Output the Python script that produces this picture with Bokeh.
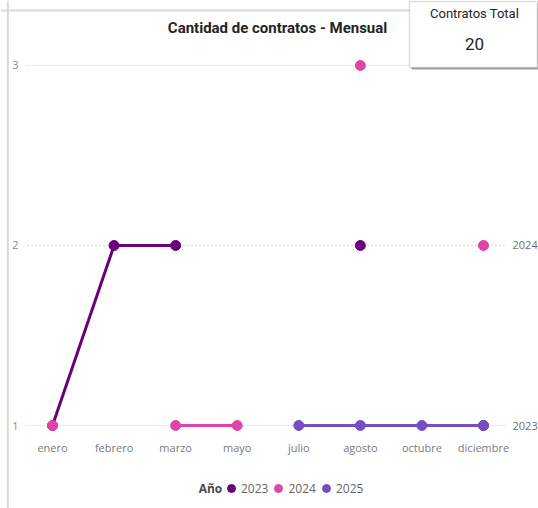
import math
from bokeh.plotting import figure
from bokeh.models import (Range1d, Legend, LegendItem, Label, BoxAnnotation,
                          ColumnDataSource, Span)
from bokeh.core.properties import value
from bokeh.embed import file_html
from bokeh.resources import INLINE

months = ["enero", "febrero", "marzo", "mayo", "julio", "agosto", "octubre", "diciembre"]
nan = float("nan")
series_names = ["2023", "2024", "2025"]
v2023 = [1, 2, 2, nan, nan, 2, nan, 1]
v2024 = [1, nan, 1, 1, nan, 3, nan, 2]
v2025 = [nan, nan, nan, nan, 1, 1, 1, 1]
series_values = [v2023, v2024, v2025]
colors = ["#6B007B", "#E044A7", "#744EC2"]
y_ticks = [1, 2, 3]
title_text = "Cantidad de contratos - Mensual"
total_label = "Contratos Total"
legend_title = "Año"

FONT = "Open Sans"
W, H = 538, 508

# Frame covers the whole figure; category i sits at x = i, value v at y = v
p = figure(width=W, height=H, output_backend="svg", toolbar_location=None,
           x_range=Range1d(-0.8446, 7.893), y_range=Range1d(0.5389, 3.3611),
           min_border=0, min_border_left=0, min_border_right=0,
           min_border_top=0, min_border_bottom=0)
p.xaxis.visible = False
p.yaxis.visible = False
p.xgrid.visible = False
p.ygrid.visible = False
p.outline_line_color = None
p.background_fill_color = "white"
p.border_fill_color = "white"

n = len(months)
x_lo, x_hi = -0.406, n - 1 + 0.357

# visual frame lines (top & left)
p.add_layout(Span(location=3.3056, dimension="width", line_color="#dadada", line_width=2))
p.add_layout(Span(location=-0.725, dimension="height", line_color="#dadada", line_width=2))

# dotted gridlines at y ticks
p.segment(x0=[x_lo] * len(y_ticks), x1=[x_hi] * len(y_ticks), y0=y_ticks, y1=y_ticks,
          line_color="#b4b4b4", line_width=1, line_dash="1 3")

# y tick labels (left)
p.text(x=[-0.552] * len(y_ticks), y=y_ticks, text=[str(t) for t in y_ticks],
       text_font=value(FONT), text_font_size="11px", text_color="#8a8a8a",
       text_align="right", text_baseline="middle")

# x tick labels
p.text(x=list(range(n)), y=[0.878] * n, text=months,
       text_font=value(FONT), text_font_size="11px", text_color="#7a7a7a",
       text_align="center", text_baseline="middle")

# end-of-series labels (right)
end_labels = {}
for name, vals in zip(series_names, series_values):
    last = [v for v in vals if not math.isnan(v)][-1]
    if last not in end_labels:
        end_labels[last] = name
p.text(x=[7.471] * len(end_labels), y=list(end_labels.keys()),
       text=list(end_labels.values()),
       text_font=value(FONT), text_font_size="11px", text_color="#6e6e6e",
       text_align="left", text_baseline="middle")

# series
items = []
xs = list(range(n))
for name, vals, col in zip(series_names, series_values, colors):
    src = ColumnDataSource(dict(x=xs, y=vals))
    p.line("x", "y", source=src, line_color=col, line_width=3)
    r = p.scatter("x", "y", source=src, size=10, fill_color=col, line_color=col)
    items.append(LegendItem(label=name, renderers=[r]))

legend = Legend(items=items, orientation="horizontal", location=(221, 10),
                label_text_font=FONT, label_text_font_size="12px",
                label_text_color="#666666", glyph_width=20, glyph_height=20,
                label_standoff=-4, spacing=0, padding=0, margin=0,
                border_line_color=None, background_fill_alpha=0)
p.add_layout(legend)

p.text(x=[2.566], y=[0.65], text=[legend_title], text_font=value(FONT),
       text_font_style="bold", text_font_size="12px", text_color="#4a4a4a",
       text_align="center", text_baseline="middle")

# title
p.add_layout(Label(x=3.655, y=3.2056, text=title_text,
                   text_font="Roboto", text_font_style="bold", text_font_size="15px",
                   text_color="#252423", text_align="center", text_baseline="middle"))

# card with shadow
p.add_layout(BoxAnnotation(left=5.83, right=7.91, top=3.345, bottom=2.978,
                           fill_color="#a0a0a0", fill_alpha=1, line_alpha=0))
p.add_layout(BoxAnnotation(left=5.798, right=7.877, top=3.356, bottom=2.989,
                           fill_color="white", fill_alpha=1, line_color="#8a8a8a",
                           line_width=1.5))
p.add_layout(Label(x=6.854, y=3.289, text=total_label, text_font="Roboto",
                   text_font_size="13px", text_color="#252423",
                   text_align="center", text_baseline="middle"))
total = int(sum(v for vals in series_values for v in vals if not math.isnan(v)))
p.add_layout(Label(x=6.854, y=3.117, text=str(total), text_font="Roboto",
                   text_font_size="17px", text_color="#252423",
                   text_align="center", text_baseline="middle"))

open("out.html", "w").write(file_html(p, INLINE))
